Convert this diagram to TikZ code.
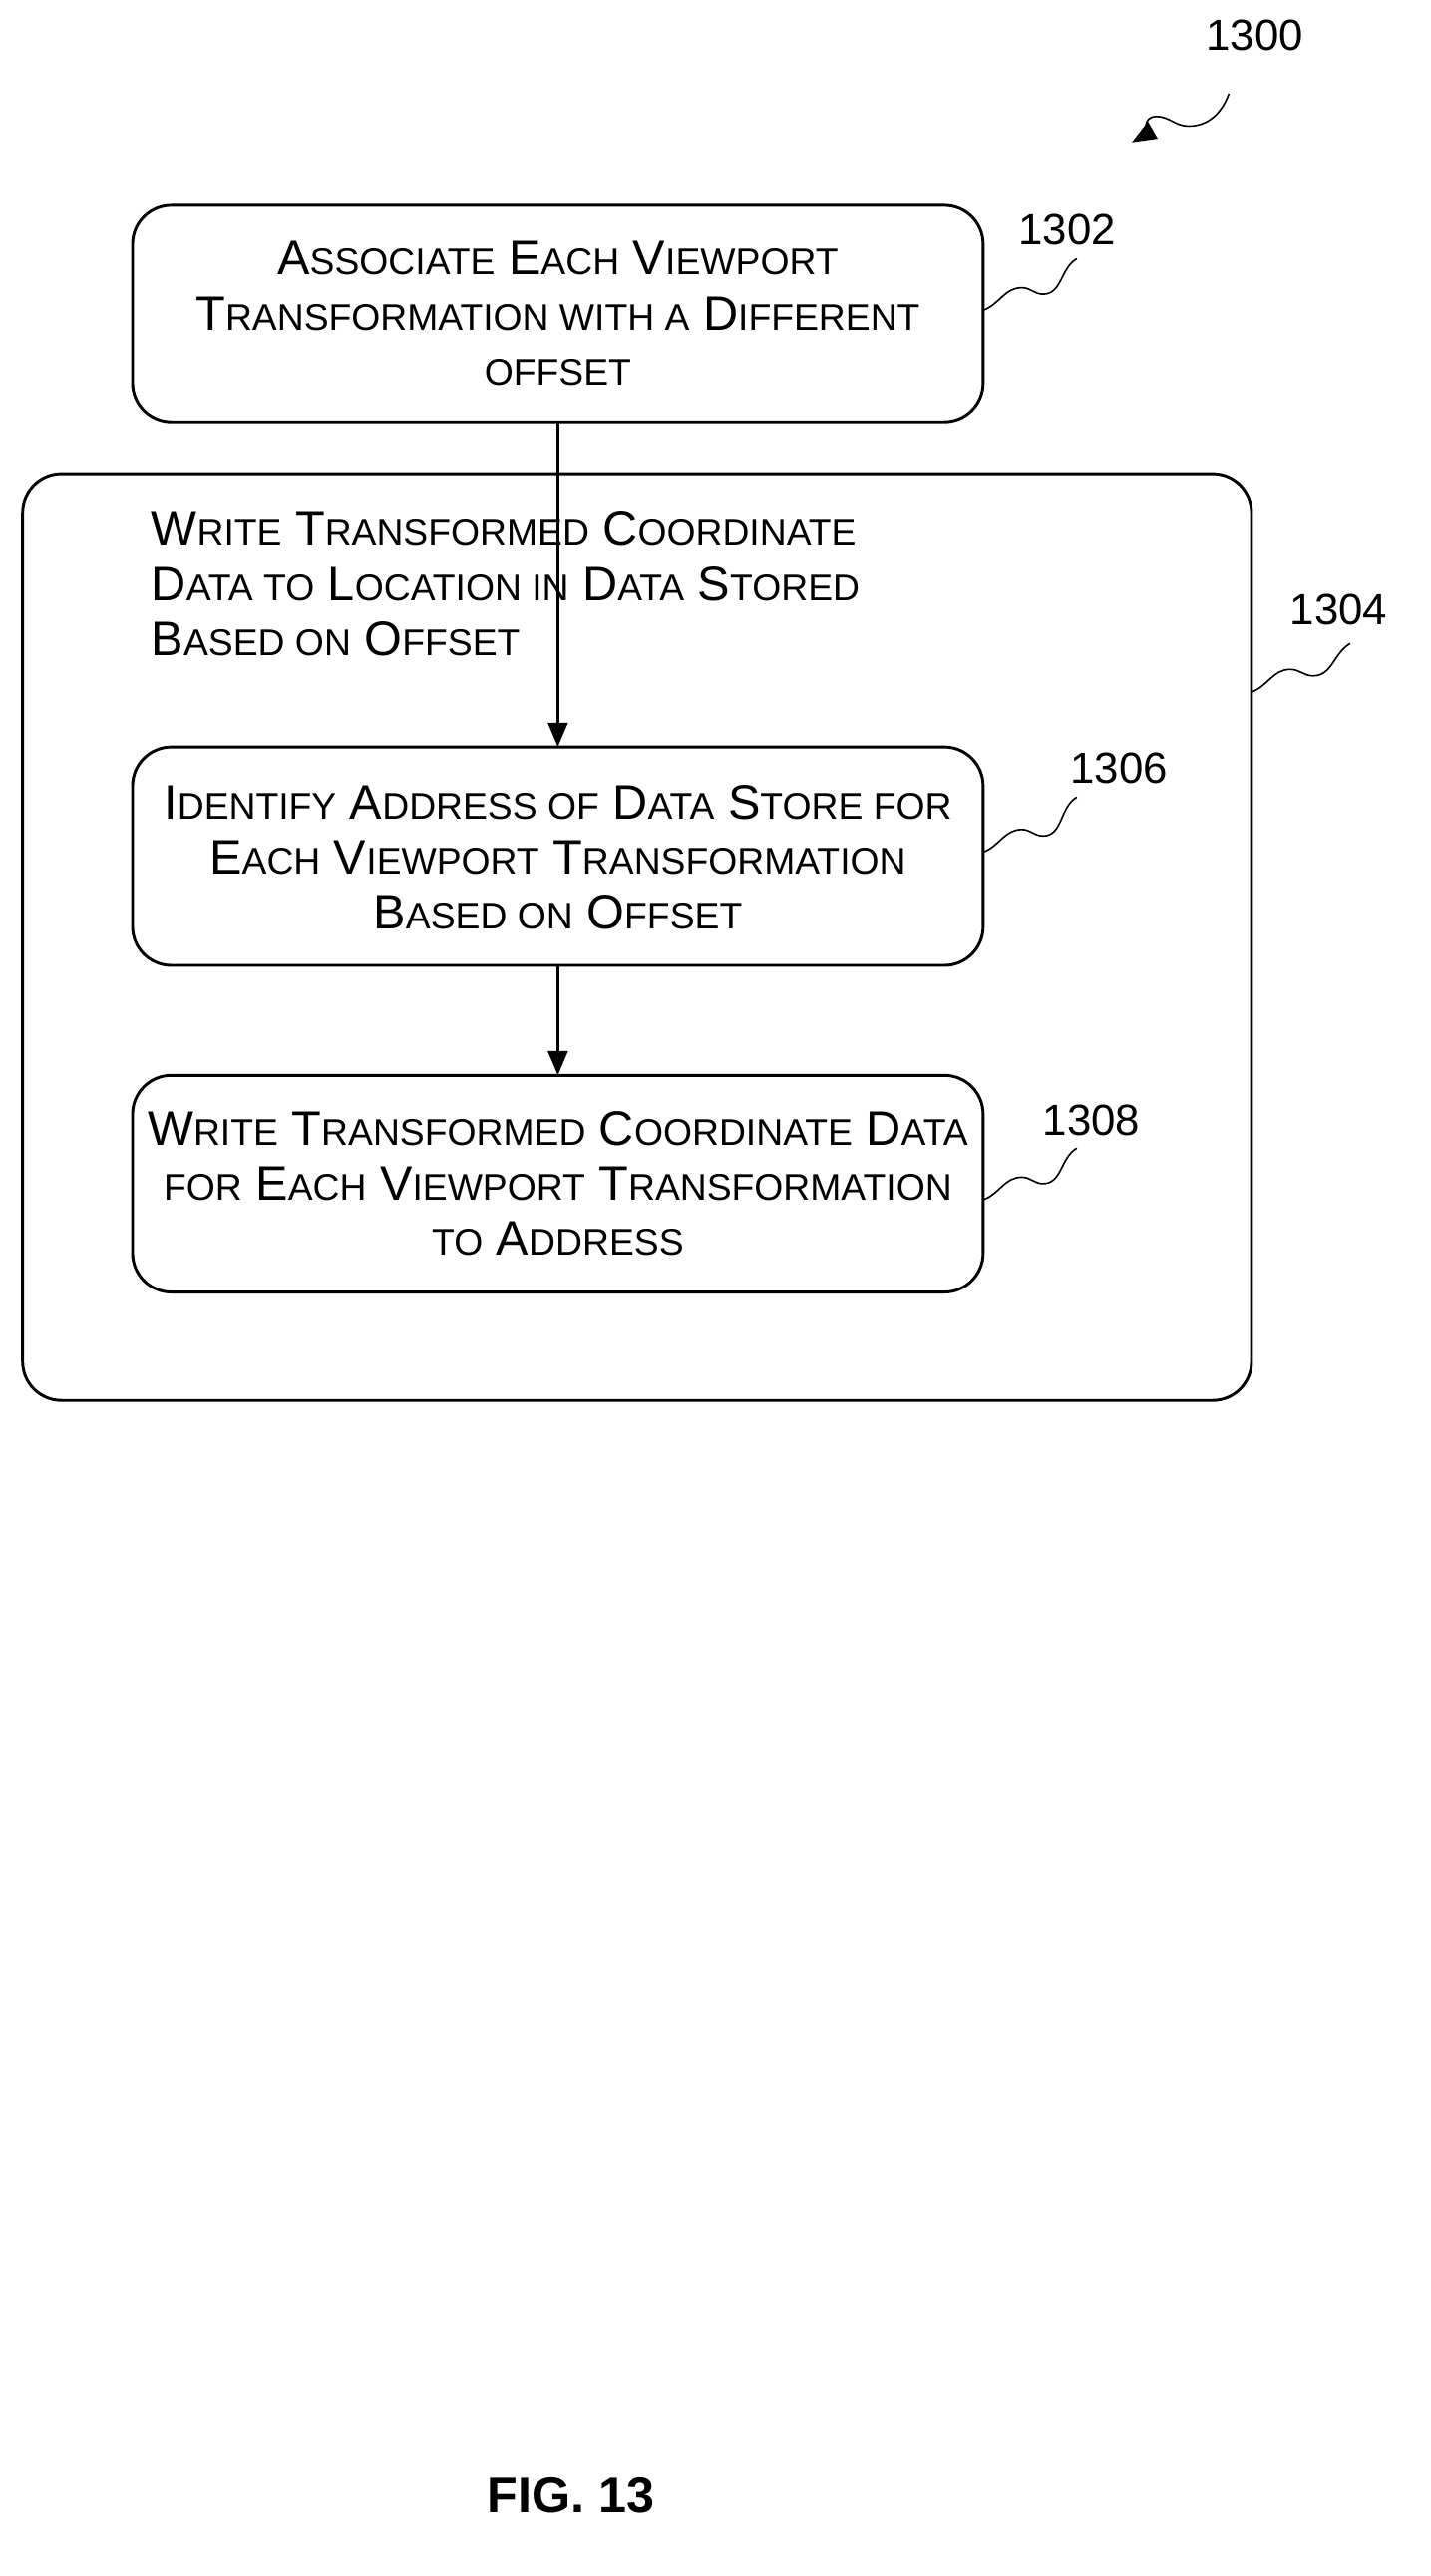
\documentclass[tikz,border=0pt]{standalone}
\usepackage{fontspec}
\setmainfont{Liberation Sans}
\usetikzlibrary{arrows.meta}
\newcommand{\sm}[1]{{\fontsize{23}{26}\selectfont\MakeUppercase{#1}}}
\begin{document}
\begin{tikzpicture}[x=1pt,y=-1pt,
  box/.style={draw,line width=1.8pt,rounded corners=24pt},
  txt/.style={align=center,font=\fontsize{30}{34}\selectfont},
  lab/.style={font=\fontsize{27}{30}\selectfont},
  sq/.style={line width=1pt},
  arr/.style={line width=2.2pt,-{Triangle[length=15pt,width=12pt]}}]
\useasboundingbox (0,0) rectangle (885,1593);
\draw[box] (14,293) rectangle (774,866);
\draw[box] (82,127) rectangle (608,261);
\draw[box] (82,462) rectangle (608,597);
\draw[box] (82,665) rectangle (608,799);
\node[txt] (t1302) at (345,194) {A\sm{ssociate} E\sm{ach} V\sm{iewport}\\T\sm{ransformation with a} D\sm{ifferent}\\\sm{offset}};
\node[txt,align=left,anchor=west] (t1304) at (90,361) {W\sm{rite} T\sm{ransformed} C\sm{oordinate}\\D\sm{ata to} L\sm{ocation in} D\sm{ata} S\sm{tored}\\B\sm{ased on} O\sm{ffset}};
\node[txt] (t1306) at (345,530) {I\sm{dentify} A\sm{ddress of} D\sm{ata} S\sm{tore for}\\E\sm{ach} V\sm{iewport} T\sm{ransformation}\\B\sm{ased on} O\sm{ffset}};
\node[txt] (t1308) at (345,732) {W\sm{rite} T\sm{ransformed} C\sm{oordinate} D\sm{ata}\\\sm{for} E\sm{ach} V\sm{iewport} T\sm{ransformation}\\\sm{to} A\sm{ddress}};
\coordinate (b1) at (345,261); \coordinate (t2) at (345,462);
\coordinate (b2) at (345,597); \coordinate (t3) at (345,665);
\draw[arr] (b1) -- (t2);
\draw[arr] (b2) -- (t3);
\node[lab] (l1300) at (776,22) {1300};
\node[lab] (l1302) at (660,142) {1302};
\node[lab] (l1304) at (828,377) {1304};
\node[lab] (l1306) at (692,475) {1306};
\node[lab] (l1308) at (675,693) {1308};
\coordinate (s0) at (760,58); \coordinate (e0) at (700,88);
\draw[sq,-{Triangle[length=15pt,width=12pt]}] (s0) to[out=-110,in=0] (735,78) to[out=180,in=0] (715,72) to[out=180,in=30] (e0);
\draw[sq] (608,192) to[out=20,in=180] (632,178) to[out=0,in=180] (645,182) to[out=0,in=-150] (666,160);
\draw[sq] (774,428) to[out=20,in=180] (798,414) to[out=0,in=180] (812,418) to[out=0,in=-150] (835,398);
\draw[sq] (608,527) to[out=20,in=180] (632,513) to[out=0,in=180] (645,517) to[out=0,in=-150] (666,493);
\draw[sq] (608,742) to[out=20,in=180] (632,728) to[out=0,in=180] (645,732) to[out=0,in=-150] (666,710);
\node[font=\bfseries\fontsize{31}{36}\selectfont] (fig) at (353,1543) {FIG. 13};
\end{tikzpicture}
\end{document}
